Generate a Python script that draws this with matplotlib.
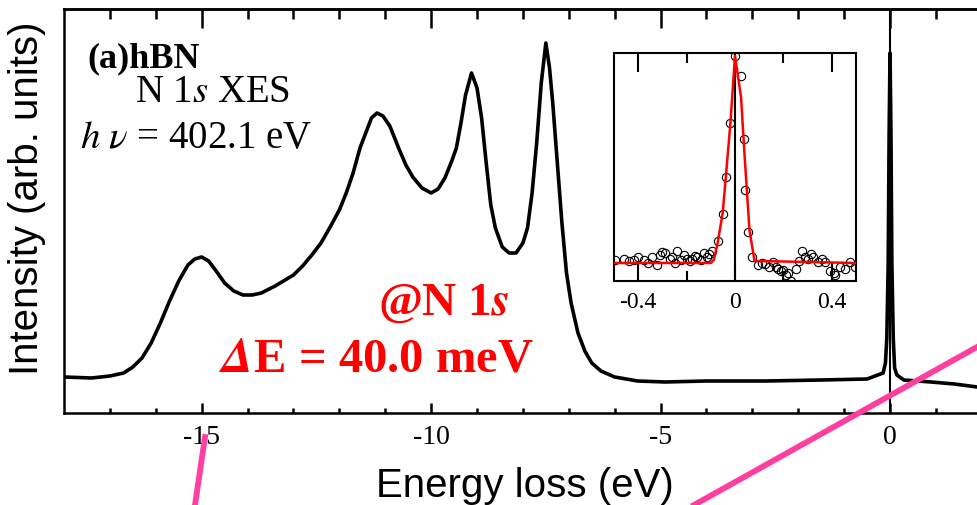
import matplotlib.pyplot as plt
from matplotlib.lines import Line2D
import numpy as np

plt.rcParams['font.family'] = ['Liberation Serif', 'DejaVu Serif']
plt.rcParams['mathtext.fontset'] = 'stix'
plt.rcParams['axes.unicode_minus'] = False

# N 1s XES spectrum of hBN
energy = [-18.0, -17.4, -17.0, -16.7, -16.5, -16.3, -16.1, -15.9, -15.7, -15.5,
          -15.3, -15.15, -15.0, -14.85, -14.7, -14.5, -14.3, -14.1, -13.9, -13.7,
          -13.4, -13.0, -12.8, -12.6, -12.4, -12.2, -12.0, -11.85, -11.7, -11.55,
          -11.4, -11.3, -11.18, -11.05, -10.9, -10.7, -10.55, -10.4, -10.2, -10.0,
          -9.85, -9.7, -9.55, -9.45, -9.35, -9.25, -9.12, -9.0, -8.9, -8.8,
          -8.7, -8.6, -8.45, -8.3, -8.15, -8.0, -7.9, -7.8, -7.7, -7.6,
          -7.5, -7.42, -7.35, -7.25, -7.15, -7.05, -6.95, -6.8, -6.65, -6.5,
          -6.3, -6.0, -5.5, -4.9, -4.0, -2.7, -1.5, -0.5, -0.15, -0.1,
          -0.07, -0.04, -0.02, 0.0, 0.02, 0.04, 0.07, 0.1, 0.15, 0.3,
          0.9, 1.4, 1.9]
intensity = [36, 35, 37, 40, 46, 55, 70, 90, 112, 132,
             148, 154, 156, 152, 143, 130, 122, 118, 118, 120,
             127, 138, 147, 158, 170, 186, 203, 220, 240, 265,
             283, 295, 300, 297, 287, 264, 248, 236, 225, 220,
             224, 235, 252, 265, 290, 318, 340, 325, 295, 250,
             208, 185, 166, 160, 160, 170, 185, 220, 270, 330,
             370, 345, 310, 250, 190, 140, 110, 80, 62, 50,
             42, 36, 32, 31, 32, 32, 33, 34, 40, 50,
             75, 150, 280, 360, 280, 150, 75, 45, 38, 33,
             31, 29, 26]

# inset: elastic line, fit and data points
fit_x = [-0.5, -0.1, -0.0875, -0.072, -0.051, -0.0375, -0.019, 0.0, 0.025, 0.0417, 0.0597, 0.0806, 0.5]
fit_y = [0.0, 0.0, 0.015, 0.095, 0.24, 0.42, 0.675, 1.0, 0.80, 0.48, 0.16, 0.01, 0.0]

pts_x = [-0.496, -0.46, -0.44, -0.419, -0.40, -0.377, -0.36, -0.343, -0.322, -0.31,
         -0.301, -0.288, -0.27, -0.26, -0.25, -0.239, -0.225, -0.21, -0.197, -0.185,
         -0.176, -0.165, -0.156, -0.14, -0.128, -0.115, -0.107, -0.093,
         -0.072, -0.051, -0.0375, -0.0195, 0.0, 0.025, 0.036, 0.0417, 0.0528,
         0.07, 0.094, 0.11, 0.122, 0.14, 0.157, 0.17, 0.178, 0.19, 0.199,
         0.21, 0.219, 0.233, 0.254, 0.265, 0.275, 0.29, 0.303, 0.315, 0.324,
         0.344, 0.36, 0.372, 0.393, 0.41, 0.414, 0.435, 0.456, 0.476, 0.497]
pts_y = [0.015, 0.02, 0.01, 0.015, 0.03, 0.012, 0.0, 0.03, -0.01, 0.04,
         0.055, 0.05, 0.02, 0.03, 0.0, 0.06, 0.015, 0.04, 0.02, 0.01,
         0.018, 0.035, 0.03, 0.015, 0.05, 0.03, 0.045, 0.06,
         0.108, 0.235, 0.414, 0.675, 1.0, 0.903, 0.60, 0.353, 0.148,
         0.03, -0.01, 0.0, -0.005, -0.02, 0.005, -0.02, -0.03, -0.04, -0.035,
         -0.06, -0.05, -0.085, -0.03, 0.01, 0.06, 0.03, 0.02, 0.045, 0.03,
         0.005, 0.02, 0.005, -0.04, -0.05, -0.06, -0.02, -0.03, 0.005, -0.02]

W, H = 977, 505
fig = plt.figure(figsize=(W / 100, H / 100), dpi=100)

# main panel
ax = fig.add_axes([64 / W, 1 - 413 / H, 1 - 64 / W, (413 - 9) / H])
ax.plot(energy, intensity, color='black', lw=2.6, solid_joinstyle='round')
ax.axvline(0, color='black', lw=1.5)
ax.set_xlim(-18, 1.895)
ax.set_ylim(0, 404)
ax.set_yticks([])
ax.spines['right'].set_visible(False)
for s in ['left', 'top', 'bottom']:
    ax.spines[s].set_linewidth(1.8)
ax.set_xticks([-15, -10, -5, 0])
ax.set_xticks(np.arange(-17, 2, 1), minor=True)
ax.tick_params(axis='x', which='major', direction='in', length=7, width=1.8,
               labelsize=20, pad=9)
ax.tick_params(axis='x', which='minor', direction='in', length=3.6, width=1.8)

top = ax.secondary_xaxis('top')
top.set_xticks([-15, -10, -5, 0])
top.set_xticks(np.arange(-17, 2, 1), minor=True)
top.tick_params(axis='x', which='major', direction='in', length=13.7, width=1.8, labeltop=False)
top.tick_params(axis='x', which='minor', direction='in', length=7, width=1.8)
top.spines['top'].set_linewidth(1.8)

# inset
ins = fig.add_axes([614 / W, 1 - 281 / H, 242 / W, 228 / H])
ins.plot(fit_x, fit_y, color='red', lw=1.8, zorder=3)
ins.plot(pts_x, pts_y, 'o', mfc='none', mec='black', ms=6, mew=0.8, zorder=2)
ins.axvline(0, color='black', lw=1.5, zorder=1)
ins.set_xlim(-0.5, 0.5)
ins.set_ylim(-0.087, 1.014)
ins.set_yticks([])
ins.set_xticks([-0.4, 0, 0.4])
ins.set_xticklabels(['-0.4', '0', '0.4'])
ins.set_xticks([-0.2, 0.2], minor=True)
ins.tick_params(axis='x', which='major', direction='in', top=True, length=13.7,
                width=1.5, labelsize=17, pad=8)
ins.tick_params(axis='x', which='minor', direction='in', top=True, length=7, width=1.5)
for s in ins.spines.values():
    s.set_linewidth(1.5)

# labels
sans = ['Liberation Sans', 'DejaVu Sans']
fig.text(27 / W, 1 - 198 / H, 'Intensity (arb. units)', rotation=90,
         ha='center', va='center', family=sans, size=29)
fig.text(525 / W, 1 - 486 / H, 'Energy loss (eV)', ha='center', va='center',
         family=sans, size=29)

fig.text(87 / W, 1 - 67 / H, '(a)hBN', weight='bold', size=26, va='baseline')
fig.text(135 / W, 1 - 102 / H, 'N 1$s$ XES', size=28, va='baseline')
fig.text(80 / W, 1 - 148 / H, r'$h\ \nu$ = 402.1 eV', size=28, va='baseline')

fig.text(444 / W, 1 - 315 / H, r'@N 1$\mathbfit{s}$', color='red', weight='bold',
         size=34, ha='center', va='baseline')
fig.text(376 / W, 1 - 372 / H, r'$\mathbfit{\Delta}$E = 40.0 meV', color='red',
         weight='bold', size=35, ha='center', va='baseline')

# pink guide lines
pink = '#ff3fa0'
fig.add_artist(Line2D([205 / W, 195 / W], [1 - 437 / H, 1 - 505 / H], color=pink, lw=4.2))
fig.add_artist(Line2D([977 / W, 694 / W], [1 - 347 / H, 1 - 505 / H], color=pink, lw=4.2))

fig.savefig('out.png', dpi=100)
